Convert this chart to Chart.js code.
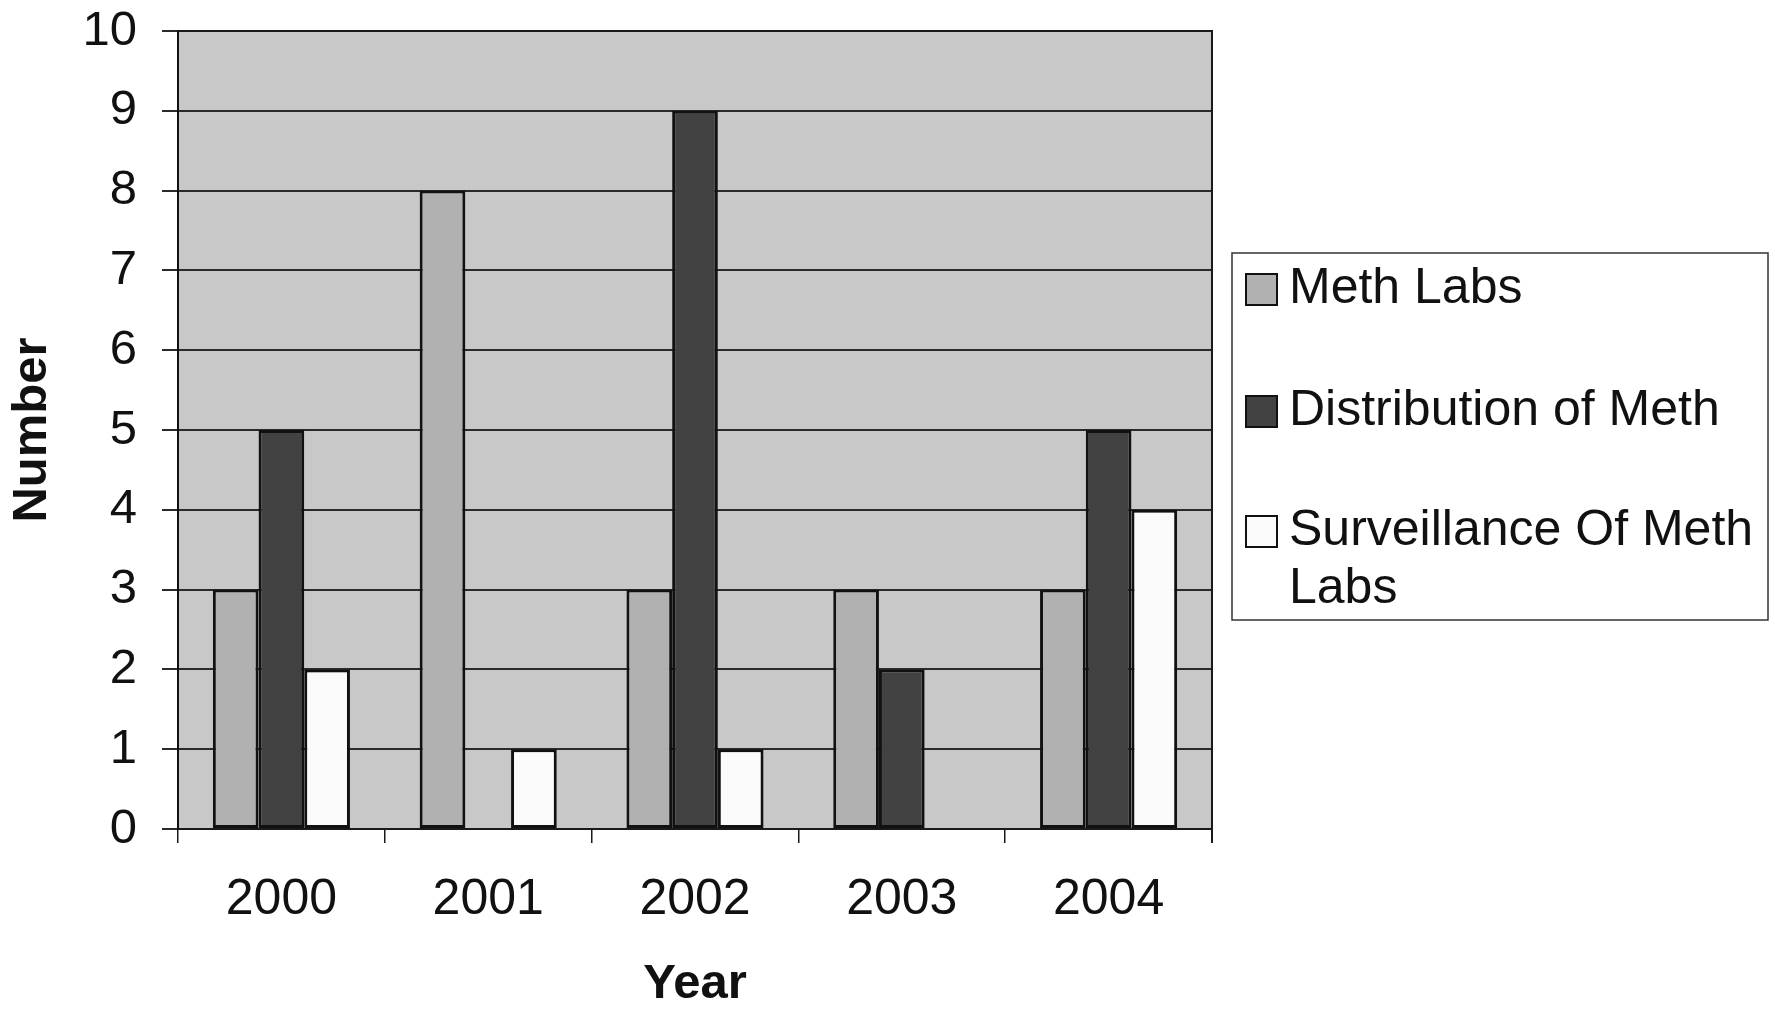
<!DOCTYPE html>
<html>
<head>
<meta charset="utf-8">
<script src="https://cdn.jsdelivr.net/npm/chart.js@4/dist/chart.umd.min.js"></script>
<style>
  html, body { margin: 0; padding: 0; background: #ffffff; }
  #wrap { width: 1775px; height: 1009px; }
</style>
</head>
<body>
<div id="wrap"><canvas id="c" width="1775" height="1009"></canvas></div>
<script>
const years = ['2000', '2001', '2002', '2003', '2004'];
const methLabs = [3, 8, 3, 3, 3];
const distributionOfMeth = [5, 0, 9, 2, 5];
const surveillanceOfMethLabs = [2, 1, 1, 0, 4];
const seriesNames = ['Meth Labs', 'Distribution of Meth', ['Surveillance Of Meth', 'Labs']];
const yTicks = [0, 1, 2, 3, 4, 5, 6, 7, 8, 9, 10];

const FONT = '"Liberation Sans", Arial, Helvetica, sans-serif';
const colors = ['#b1b1b1', '#424242', '#fbfbfb'];

// Grey plot background and the frame around the plot area
const plotFrame = {
  id: 'plotFrame',
  beforeDraw(chart) {
    const { ctx, chartArea: a } = chart;
    ctx.save();
    ctx.fillStyle = '#c8c8c8';
    ctx.fillRect(a.left, a.top, a.right - a.left, a.bottom - a.top);
    ctx.restore();
  },
  afterDraw(chart) {
    const { ctx, chartArea: a } = chart;
    ctx.save();
    ctx.strokeStyle = '#1a1a1a';
    ctx.lineWidth = 2;
    ctx.beginPath();
    ctx.moveTo(a.left, a.top);
    ctx.lineTo(a.right, a.top);
    ctx.lineTo(a.right, a.bottom + 14);
    ctx.stroke();
    ctx.restore();
  }
};

// Boxed legend on the right, with the long label wrapped onto two lines
const sideLegend = {
  id: 'sideLegend',
  afterDraw(chart) {
    const { ctx } = chart;
    const box = { x: 1232, y: 253, w: 536, h: 367 };
    const rows = [289, 411, 531];
    const lineGap = 58;
    ctx.save();
    ctx.fillStyle = '#ffffff';
    ctx.fillRect(box.x, box.y, box.w, box.h);
    ctx.strokeStyle = '#333333';
    ctx.lineWidth = 1.5;
    ctx.strokeRect(box.x, box.y, box.w, box.h);
    ctx.font = '50px ' + FONT;
    ctx.textBaseline = 'middle';
    ctx.textAlign = 'left';
    chart.data.datasets.forEach((ds, i) => {
      const cy = rows[i];
      ctx.fillStyle = ds.backgroundColor;
      ctx.fillRect(1246, cy - 15, 31, 31);
      ctx.strokeStyle = '#111111';
      ctx.lineWidth = 2;
      ctx.strokeRect(1246, cy - 15, 31, 31);
      ctx.fillStyle = '#111111';
      const lines = Array.isArray(ds.label) ? ds.label : [ds.label];
      lines.forEach((t, j) => ctx.fillText(t, 1289, cy + j * lineGap));
    });
    ctx.restore();
  }
};

const seriesValues = [methLabs, distributionOfMeth, surveillanceOfMethLabs];

new Chart(document.getElementById('c'), {
  type: 'bar',
  data: {
    labels: years,
    datasets: seriesValues.map((vals, i) => ({
      label: seriesNames[i],
      data: vals,
      backgroundColor: colors[i],
      borderColor: '#111111',
      borderWidth: 3,
      borderSkipped: false,
      categoryPercentage: 0.663,
      barPercentage: 1.0
    }))
  },
  options: {
    responsive: false,
    animation: false,
    devicePixelRatio: 1,
    layout: { padding: { left: 0, top: 31, right: 563, bottom: 0 } },
    plugins: {
      legend: { display: false },
      tooltip: { enabled: false }
    },
    scales: {
      x: {
        offset: true,
        grid: {
          offset: true,
          drawOnChartArea: false,
          drawTicks: true,
          tickLength: 14,
          color: '#1a1a1a',
          lineWidth: 1.5
        },
        border: { display: true, color: '#1a1a1a', width: 2 },
        ticks: {
          color: '#111111',
          padding: 27,
          font: { family: FONT, size: 50 }
        },
        title: {
          display: true,
          text: 'Year',
          color: '#111111',
          padding: { top: 0, bottom: 0 },
          font: { family: FONT, size: 49, weight: 'bold', lineHeight: 1.0 }
        },
        afterFit(scale) { scale.height = 180; }
      },
      y: {
        min: 0,
        max: 10,
        afterBuildTicks(scale) { scale.ticks = yTicks.map(v => ({ value: v })); },
        grid: {
          color: '#2a2a2a',
          lineWidth: 2,
          drawTicks: true,
          tickLength: 16
        },
        border: { display: true, color: '#111111', width: 2 },
        ticks: {
          color: '#111111',
          padding: 25,
          font: { family: FONT, size: 49, lineHeight: 0.4 }
        },
        title: {
          display: true,
          text: 'Number',
          color: '#111111',
          padding: { top: 8, bottom: 0 },
          font: { family: FONT, size: 49, weight: 'bold', lineHeight: 1.0 }
        },
        afterFit(scale) {
          scale.width = 178;
          scale.paddingTop = 0;
          scale.paddingBottom = 0;
        }
      }
    }
  },
  plugins: [plotFrame, sideLegend]
});
</script>
</body>
</html>
